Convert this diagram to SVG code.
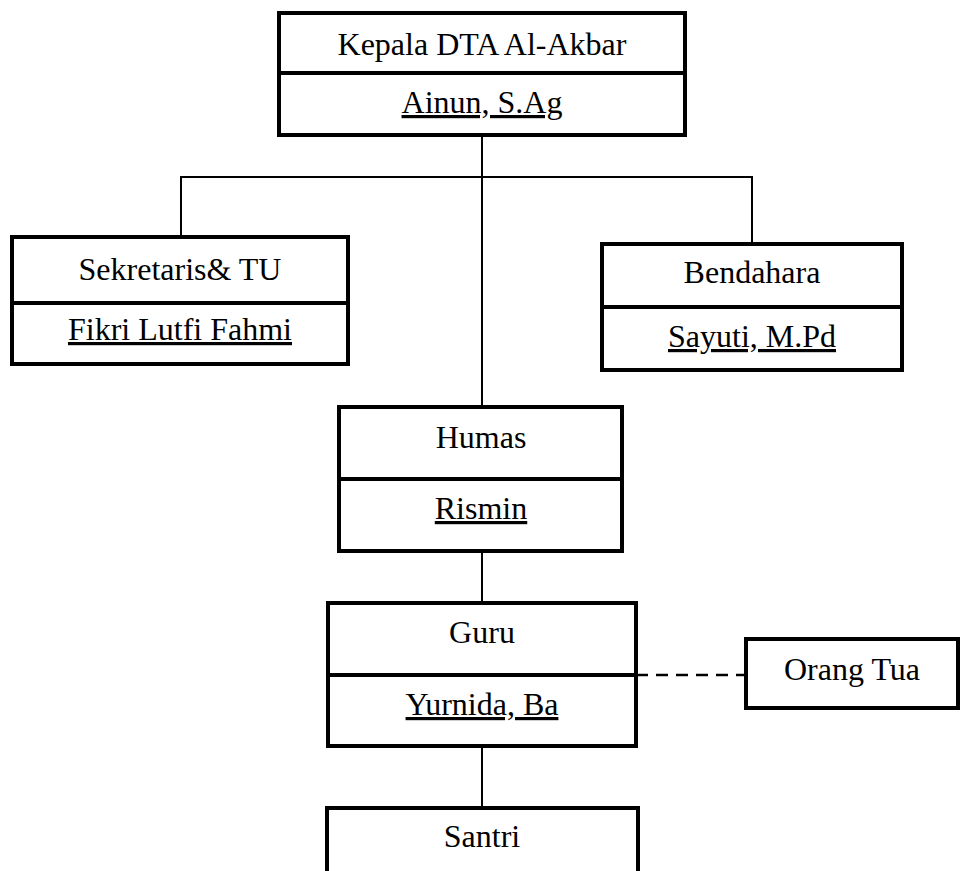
<svg xmlns="http://www.w3.org/2000/svg" width="960" height="871" viewBox="0 0 960 871">
<style>
.box{fill:#fff;stroke:#000;stroke-width:4}
.div{stroke:#000;stroke-width:4}
.t{font-family:"Liberation Serif","Times New Roman",serif;font-size:32px;fill:#000;text-anchor:middle}
.u{text-decoration:underline}
.c{stroke:#000;stroke-width:2;fill:none}
.d{stroke:#000;stroke-width:2.5;fill:none;stroke-dasharray:12 8}
</style>
<rect width="960" height="871" fill="#fff"/>
<g id="connectors">
<line class="c" x1="482" y1="135" x2="482" y2="407"/>
<polyline class="c" points="181,237 181,177 752,177 752,244"/>
<line class="c" x1="482" y1="551" x2="482" y2="603"/>
<line class="c" x1="482" y1="746" x2="482" y2="808"/>
<line class="d" x1="636" y1="675" x2="746" y2="675"/>
</g>
<g id="kepala">
<rect class="box" x="279" y="13" width="406" height="122"/>
<line class="div" x1="279" y1="73" x2="685" y2="73"/>
<text class="t" x="482" y="55">Kepala DTA Al-Akbar</text>
<text class="t u" x="482" y="113">Ainun, S.Ag</text>
</g>
<g id="sekretaris">
<rect class="box" x="12" y="237" width="336" height="127"/>
<line class="div" x1="12" y1="303" x2="348" y2="303"/>
<text class="t" x="180" y="280">Sekretaris&amp; TU</text>
<text class="t u" x="180" y="340">Fikri Lutfi Fahmi</text>
</g>
<g id="bendahara">
<rect class="box" x="602" y="244" width="300" height="126"/>
<line class="div" x1="602" y1="307" x2="902" y2="307"/>
<text class="t" x="752" y="283">Bendahara</text>
<text class="t u" x="752" y="347">Sayuti, M.Pd</text>
</g>
<g id="humas">
<rect class="box" x="339" y="407" width="283" height="144"/>
<line class="div" x1="339" y1="479" x2="622" y2="479"/>
<text class="t" x="481" y="448">Humas</text>
<text class="t u" x="481" y="519">Rismin</text>
</g>
<g id="guru">
<rect class="box" x="328" y="603" width="308" height="143"/>
<line class="div" x1="328" y1="675" x2="636" y2="675"/>
<text class="t" x="482" y="643">Guru</text>
<text class="t u" x="482" y="715">Yurnida, Ba</text>
</g>
<g id="orangtua">
<rect class="box" x="746" y="639" width="212" height="69"/>
<text class="t" x="852" y="680">Orang Tua</text>
</g>
<g id="santri">
<rect class="box" x="327" y="808" width="311" height="100"/>
<text class="t" x="482" y="847">Santri</text>
</g>
</svg>
